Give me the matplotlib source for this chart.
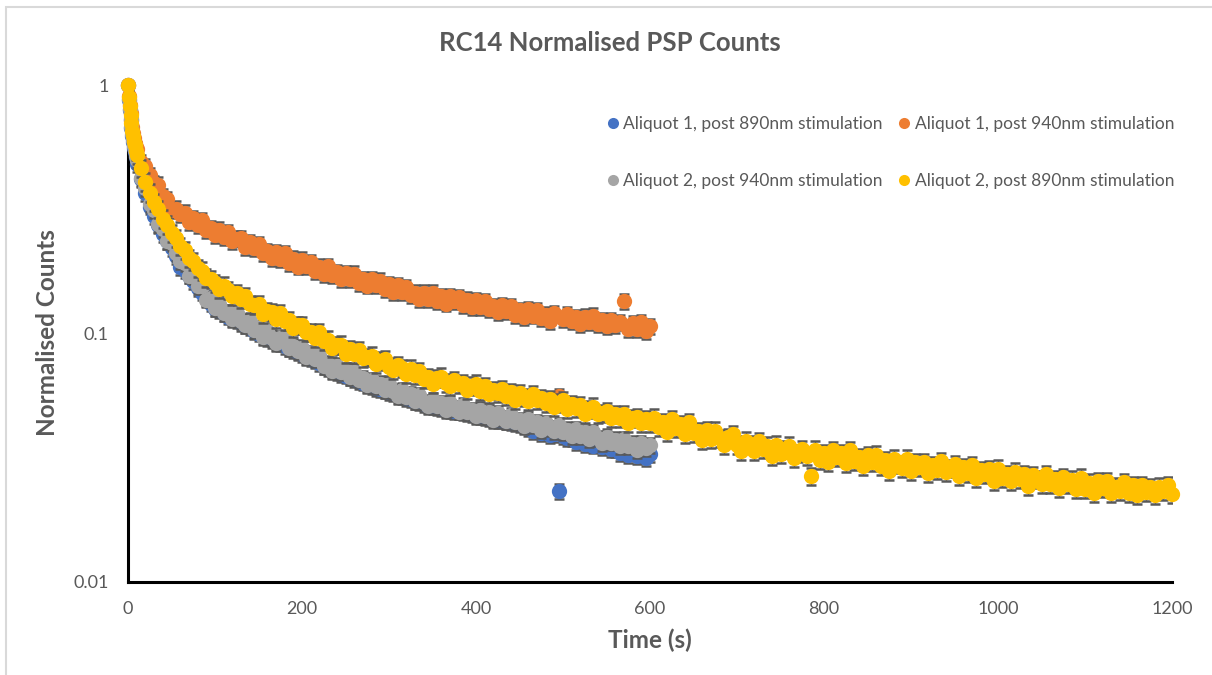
import numpy as np
import matplotlib
matplotlib.use("Agg")
import matplotlib.pyplot as plt
from matplotlib.lines import Line2D
from matplotlib.patches import Rectangle

plt.rcParams["font.family"] = ["Lato", "DejaVu Sans"]

# sample times (s): 1 s steps for the first 10 s, then every 5 s
t_short = np.r_[np.arange(10), np.arange(10, 601, 5)]
t_long = np.r_[np.arange(10), np.arange(10, 1201, 5)]

# Aliquot 1, post 890nm stimulation (blue)
a1_890 = [
    1.0, 0.87, 0.79, 0.725, 0.67, 0.625, 0.59, 0.56, 0.54, 0.512,
    0.479, 0.417, 0.366, 0.324, 0.297, 0.274, 0.252, 0.235, 0.220, 0.205,
    0.185, 0.180, 0.171, 0.162, 0.152, 0.146, 0.139, 0.132, 0.126, 0.124,
    0.121, 0.117, 0.115, 0.113, 0.110, 0.108, 0.106, 0.102, 0.100, 0.0980,
    0.0958, 0.0943, 0.0927, 0.0912, 0.0888, 0.0872, 0.0857, 0.0841, 0.0825, 0.0809,
    0.0793, 0.0778, 0.0762, 0.0742, 0.0727, 0.0711, 0.0699, 0.0688, 0.0677, 0.0668,
    0.0655, 0.0645, 0.0635, 0.0627, 0.0613, 0.0605, 0.0598, 0.0590, 0.0582, 0.0574,
    0.0566, 0.0559, 0.0551, 0.0543, 0.0535, 0.0528, 0.0520, 0.0514, 0.0508, 0.0504,
    0.0501, 0.0497, 0.0493, 0.0489, 0.0485, 0.0481, 0.0477, 0.0473, 0.0469, 0.0466,
    0.0462, 0.0458, 0.0454, 0.0450, 0.0447, 0.0444, 0.0438, 0.0435, 0.0432, 0.0429,
    0.0415, 0.0405, 0.0407, 0.0396, 0.0401, 0.0389, 0.0394, 0.0232, 0.0386, 0.0378,
    0.0379, 0.0367, 0.0371, 0.0360, 0.0366, 0.0354, 0.0359, 0.0348, 0.0352, 0.0342,
    0.0342, 0.0330, 0.0336, 0.0325, 0.0333, 0.0321, 0.0328, 0.0316, 0.0326,
]

# Aliquot 1, post 940nm stimulation (orange)
a1_940 = [
    1.0, 0.90, 0.83, 0.77, 0.72, 0.68, 0.64, 0.61, 0.585, 0.565,
    0.553, 0.490, 0.472, 0.435, 0.402, 0.397, 0.356, 0.347, 0.315, 0.318,
    0.302, 0.306, 0.281, 0.291, 0.274, 0.285, 0.260, 0.266, 0.248, 0.262,
    0.245, 0.256, 0.236, 0.241, 0.242, 0.222, 0.233, 0.220, 0.229, 0.210,
    0.214, 0.201, 0.212, 0.199, 0.210, 0.192, 0.200, 0.186, 0.198, 0.187,
    0.194, 0.178, 0.186, 0.173, 0.187, 0.172, 0.176, 0.165, 0.175, 0.165,
    0.174, 0.160, 0.166, 0.156, 0.165, 0.157, 0.163, 0.151, 0.158, 0.147,
    0.157, 0.147, 0.154, 0.143, 0.146, 0.138, 0.146, 0.138, 0.146, 0.135,
    0.141, 0.132, 0.141, 0.135, 0.140, 0.130, 0.137, 0.128, 0.136, 0.128,
    0.135, 0.125, 0.129, 0.122, 0.130, 0.123, 0.129, 0.119, 0.124, 0.116,
    0.125, 0.118, 0.124, 0.115, 0.119, 0.112, 0.121, 0.056, 0.114, 0.120,
    0.112, 0.116, 0.109, 0.117, 0.111, 0.118, 0.109, 0.113, 0.107, 0.113,
    0.108, 0.111, 0.135, 0.104, 0.110, 0.104, 0.111, 0.102, 0.107,
]

# Aliquot 2, post 940nm stimulation (grey)
a2_940 = [
    1.0, 0.88, 0.80, 0.735, 0.68, 0.635, 0.60, 0.57, 0.548, 0.52,
    0.499, 0.421, 0.385, 0.331, 0.315, 0.276, 0.263, 0.235, 0.232, 0.211,
    0.196, 0.192, 0.171, 0.170, 0.155, 0.155, 0.137, 0.139, 0.127, 0.132,
    0.121, 0.122, 0.114, 0.121, 0.112, 0.108, 0.112, 0.103, 0.105, 0.0970,
    0.102, 0.0962, 0.0918, 0.0959, 0.0952, 0.0872, 0.0892, 0.0850, 0.0877, 0.0801,
    0.0834, 0.0786, 0.0817, 0.0742, 0.0756, 0.0704, 0.0743, 0.0702, 0.0712, 0.0668,
    0.0702, 0.0652, 0.0662, 0.0620, 0.0651, 0.0612, 0.0628, 0.0590, 0.0624, 0.0586,
    0.0561, 0.0593, 0.0557, 0.0571, 0.0535, 0.0566, 0.0531, 0.0509, 0.0540, 0.0510,
    0.0526, 0.0492, 0.0523, 0.0499, 0.0485, 0.0516, 0.0482, 0.0493, 0.0465, 0.0494,
    0.0466, 0.0481, 0.0449, 0.0478, 0.0456, 0.0444, 0.0470, 0.0439, 0.0449, 0.0424,
    0.0452, 0.0427, 0.0439, 0.0410, 0.0436, 0.0415, 0.0404, 0.0428, 0.0401, 0.0410,
    0.0387, 0.0411, 0.0387, 0.0400, 0.0377, 0.0401, 0.0378, 0.0363, 0.0385, 0.0364,
    0.0374, 0.0352, 0.0375, 0.0352, 0.0360, 0.0340, 0.0363, 0.0346, 0.0355,
]

# Aliquot 2, post 890nm stimulation (yellow)
a2_890 = [
    1.0, 0.895, 0.82, 0.755, 0.70, 0.655, 0.622, 0.588, 0.572, 0.543,
    0.521, 0.463, 0.408, 0.369, 0.338, 0.317, 0.290, 0.274, 0.254, 0.242,
    0.225, 0.216, 0.201, 0.196, 0.183, 0.179, 0.168, 0.165, 0.159, 0.151,
    0.156, 0.149, 0.141, 0.145, 0.138, 0.141, 0.131, 0.130, 0.131, 0.120,
    0.123, 0.122, 0.114, 0.121, 0.112, 0.113, 0.105, 0.108, 0.108, 0.101,
    0.101, 0.0960, 0.101, 0.0936, 0.0944, 0.0878, 0.0899, 0.0901, 0.0828, 0.0867,
    0.0830, 0.0859, 0.0798, 0.0802, 0.0814, 0.0757, 0.0778, 0.0790, 0.0735, 0.0710,
    0.0745, 0.0727, 0.0689, 0.0721, 0.0683, 0.0707, 0.0657, 0.0669, 0.0629, 0.0663,
    0.0671, 0.0634, 0.0616, 0.0649, 0.0625, 0.0632, 0.0590, 0.0616, 0.0629, 0.0588,
    0.0613, 0.0572, 0.0591, 0.0574, 0.0599, 0.0561, 0.0579, 0.0541, 0.0577, 0.0556,
    0.0535, 0.0570, 0.0539, 0.0551, 0.0524, 0.0546, 0.0505, 0.0527, 0.0539, 0.0499,
    0.0520, 0.0500, 0.0515, 0.0476, 0.0497, 0.0508, 0.0474, 0.0478, 0.0488, 0.0455,
    0.0473, 0.0455, 0.0475, 0.0436, 0.0456, 0.0461, 0.0436, 0.0451, 0.0436, 0.0459,
    0.0421, 0.0440, 0.0402, 0.0451, 0.0418, 0.0433, 0.0394, 0.0439, 0.0397, 0.0404,
    0.0372, 0.0408, 0.0376, 0.0407, 0.0380, 0.0357, 0.0383, 0.0394, 0.0357, 0.0338,
    0.0371, 0.0358, 0.0337, 0.0369, 0.0343, 0.0354, 0.0321, 0.0357, 0.0328, 0.0343,
    0.0354, 0.0315, 0.0330, 0.0342, 0.0321, 0.0267, 0.0341, 0.0311, 0.0329, 0.0303,
    0.0340, 0.0317, 0.0329, 0.0302, 0.0339, 0.0307, 0.0318, 0.0294, 0.0323, 0.0303,
    0.0325, 0.0293, 0.0309, 0.0280, 0.0314, 0.0298, 0.0288, 0.0314, 0.0280, 0.0303,
    0.0290, 0.0304, 0.0274, 0.0296, 0.0281, 0.0306, 0.0276, 0.0288, 0.0298, 0.0266,
    0.0290, 0.0274, 0.0296, 0.0263, 0.0282, 0.0271, 0.0284, 0.0255, 0.0286, 0.0261,
    0.0271, 0.0254, 0.0278, 0.0259, 0.0271, 0.0243, 0.0270, 0.0259, 0.0247, 0.0271,
    0.0247, 0.0259, 0.0238, 0.0265, 0.0248, 0.0258, 0.0237, 0.0263, 0.0237, 0.0251,
    0.0228, 0.0254, 0.0238, 0.0254, 0.0229, 0.0242, 0.0233, 0.0253, 0.0229, 0.0245,
    0.0223, 0.0246, 0.0231, 0.0241, 0.0223, 0.0242, 0.0233, 0.0246, 0.0227,
]

# relative error bar size of each series
rel_err = [0.07, 0.07, 0.07, 0.08]

labels = [
    "Aliquot 1, post 890nm stimulation",
    "Aliquot 1, post 940nm stimulation",
    "Aliquot 2, post 940nm stimulation",
    "Aliquot 2, post 890nm stimulation",
]
colors = ["#4472C4", "#ED7D31", "#A5A5A5", "#FFC000"]
series = [(t_short, a1_890), (t_short, a1_940), (t_short, a2_940), (t_long, a2_890)]

txt_col = "#595959"
W, H = 1212, 675
fig = plt.figure(figsize=(W / 100, H / 100), dpi=100)
ax = fig.add_axes([128 / W, 1 - 582 / H, (1172 - 128) / W, (582 - 85) / H])
ax.patch.set_alpha(0)

for i, ((t, v), c) in enumerate(zip(series, colors)):
    v = np.asarray(v)
    ax.errorbar(t, v, yerr=v * rel_err[i], fmt="none", ecolor=txt_col,
                elinewidth=1.0, capsize=3.5, capthick=1.8, zorder=2 + 2 * i)
    ax.plot(t, v, "o", ms=11, color=c, mew=0, clip_on=False, zorder=3 + 2 * i)

ax.set_yscale("log")
ax.set_ylim(0.01, 1)
ax.set_xlim(0, 1200)
ax.set_xticks(range(0, 1201, 200))
ax.set_yticks([0.01, 0.1, 1])
ax.set_yticklabels(["0.01", "0.1", "1"])
ax.minorticks_off()
ax.tick_params(length=0, labelsize=13, labelcolor=txt_col)
ax.tick_params(axis="x", pad=14)
ax.tick_params(axis="y", pad=14)
for s in ["top", "right"]:
    ax.spines[s].set_visible(False)
for s in ["left", "bottom"]:
    ax.spines[s].set_linewidth(2.2)
    ax.spines[s].set_color("black")
    ax.spines[s].set_zorder(1)

fig.text(610 / W, 1 - 43 / H, "RC14 Normalised PSP Counts", ha="center", va="center",
         fontsize=18.5, fontweight="bold", color=txt_col)
fig.text(650 / W, 1 - 640 / H, "Time (s)", ha="center", va="center",
         fontsize=17.5, fontweight="bold", color=txt_col)
fig.text(48 / W, 1 - 333 / H, "Normalised Counts", ha="center", va="center",
         rotation=90, fontsize=17.5, fontweight="bold", color=txt_col)

# legend: row 1 blue/orange, row 2 grey/yellow
handles = [Line2D([], [], ls="none", marker="o", ms=8, mew=0, color=c) for c in colors]
order = [0, 2, 1, 3]
fig.legend([handles[k] for k in order], [labels[k] for k in order], ncol=2,
           loc="center left", bbox_to_anchor=(598 / W, 1 - 152.5 / H), frameon=False,
           fontsize=12.5, labelcolor=txt_col, borderpad=0, handlelength=0.7,
           handletextpad=0.25, labelspacing=2.4, columnspacing=0.9)

fig.patches.append(Rectangle((6 / W, -0.1), 1.2, 1.1 - 7 / H, transform=fig.transFigure,
                             fill=False, edgecolor="#D9D9D9", lw=1.5))

fig.savefig("out.png", dpi=100)
